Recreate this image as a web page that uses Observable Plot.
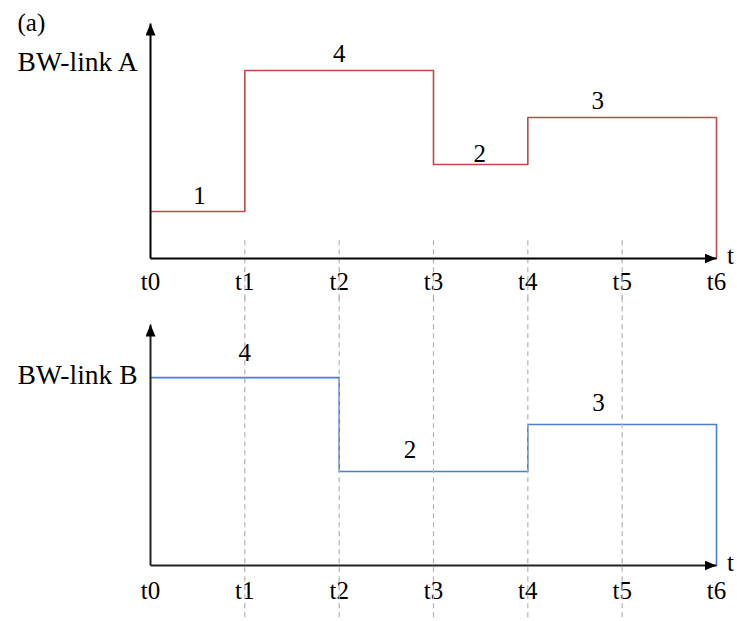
<!DOCTYPE html>
<html>
<head>
<meta charset="utf-8">
<script src="https://cdn.jsdelivr.net/npm/d3@7"></script>
<script src="https://cdn.jsdelivr.net/npm/@observablehq/plot@0.6"></script>
<style>
  html, body { margin: 0; padding: 0; background: #fff; }
  #chart { width: 737px; line-height: 0; }
  #chart svg { display: block; }
  #chart svg, #chart svg text, #chart svg g { font-family: "Liberation Serif", "Times New Roman", serif !important; }
</style>
</head>
<body>
<div id="chart"></div>
<script>
// ---- data ----
const ticks = [0, 1, 2, 3, 4, 5, 6];
const tickLabels = ["t0", "t1", "t2", "t3", "t4", "t5", "t6"];
const gridTimes = [1, 2, 3, 4, 5];

// link A: level changes at these times, levels between them
const changesA = [0, 1, 3, 4, 6];
const levelsA = [1, 4, 2, 3];
const labelTA = [0.52, 2.0, 3.49, 4.74];
const labelYA = [1.32, 4.36, 2.23, 3.36];

// link B
const changesB = [0, 2, 4, 6];
const levelsB = [4, 2, 3];
const labelTB = [1.0, 2.75, 4.75];
const labelYB = [4.53, 2.45, 3.45];

const panelTitles = ["BW-link A", "BW-link B"];
const serif = "Liberation Serif";

function stepPoints(changes, levels) {
  const pts = levels.map((v, i) => ({t: changes[i], v}));
  pts.push({t: changes[changes.length - 1], v: levels[levels.length - 1]});
  pts.push({t: changes[changes.length - 1], v: 0});
  return pts;
}

function addArrows(svg, id) {
  const ns = "http://www.w3.org/2000/svg";
  const defs = document.createElementNS(ns, "defs");
  const m = document.createElementNS(ns, "marker");
  m.setAttribute("id", id);
  m.setAttribute("viewBox", "0 0 12 10");
  m.setAttribute("refX", "12");
  m.setAttribute("refY", "5");
  m.setAttribute("markerWidth", "12");
  m.setAttribute("markerHeight", "10");
  m.setAttribute("markerUnits", "userSpaceOnUse");
  m.setAttribute("orient", "auto");
  const p = document.createElementNS(ns, "path");
  p.setAttribute("d", "M0,0L12,5L0,10Z");
  p.setAttribute("fill", "#000");
  m.appendChild(p);
  defs.appendChild(m);
  svg.insertBefore(defs, svg.firstChild);
  svg.querySelectorAll('g[aria-label="link"] path, g[aria-label="link"] line').forEach(el => {
    el.setAttribute("marker-end", `url(#${id})`);
  });
}

function panel({height, marginTop, marginBottom, yMax, changes, levels, labelT, labelY, color, title, titleY, gridFrom, gridTo, tickPad, showA, id, axisColor}) {
  const labels = levels.map((v, i) => ({t: labelT[i], y: labelY[i], text: String(v)}));
  const svg = Plot.plot({
    width: 737,
    height,
    marginLeft: 150,
    marginRight: 21,
    marginTop,
    marginBottom,
    style: {fontFamily: serif, fontSize: "25px", background: "#fff", overflow: "visible"},
    x: {domain: [0, 6], axis: null, label: null},
    y: {domain: [0, yMax], axis: null, label: null},
    marks: [
      Plot.axisX(ticks, {tickSize: 0, tickPadding: tickPad, tickFormat: d => tickLabels[d], label: null, fontSize: 25, fontFamily: serif, fill: "#000"}),
      Plot.line(stepPoints(changes, levels), {x: "t", y: "v", curve: "step-after", stroke: color, strokeWidth: 1.6}),
      Plot.ruleX(gridTimes, {y1: gridFrom, y2: gridTo, stroke: "#b3b3b3", strokeWidth: 1.2, strokeDasharray: "5,4"}),
      Plot.link([0], {x1: 0, y1: 0, x2: 6, y2: 0, stroke: axisColor, strokeWidth: 2}),
      Plot.link([0], {x1: 0, y1: 0, x2: 0, y2: yMax, stroke: axisColor, strokeWidth: 2}),
      Plot.text(labels, {x: "t", y: "y", text: "text", fontSize: 25, fontFamily: serif, fill: "#000"}),
      Plot.text(["t"], {x: 6, y: 0, text: d => d, dx: 14, dy: -3, fontSize: 25, fontFamily: serif, fill: "#000"}),
      Plot.text([title], {x: 0, y: titleY, text: d => d, dx: -13, textAnchor: "end", fontSize: 27.5, fontFamily: serif, fill: "#000"}),
      showA ? Plot.text(["(a)"], {frameAnchor: "top-left", dx: -133, dy: -1, textAnchor: "start", lineAnchor: "middle", text: d => d, fontSize: 25, fontFamily: serif, fill: "#000"}) : null
    ]
  });
  addArrows(svg, id);
  return svg;
}

const chart = document.getElementById("chart");
chart.appendChild(panel({
  height: 300, marginTop: 23, marginBottom: 42, yMax: 5,
  changes: changesA, levels: levelsA, labelT: labelTA, labelY: labelYA,
  color: "#c0474a", title: panelTitles[0], titleY: 4.17,
  gridFrom: 0.38, gridTo: -0.95, tickPad: 14, showA: true, id: "arrA", axisColor: "#000"
}));
chart.appendChild(panel({
  height: 321, marginTop: 24, marginBottom: 56, yMax: 5.13,
  changes: changesB, levels: levelsB, labelT: labelTB, labelY: labelYB,
  color: "#4a7ed6", title: panelTitles[1], titleY: 4.06,
  gridFrom: 5.7, gridTo: -1.25, tickPad: 16, showA: false, id: "arrB", axisColor: "#222"
}));
</script>
</body>
</html>
